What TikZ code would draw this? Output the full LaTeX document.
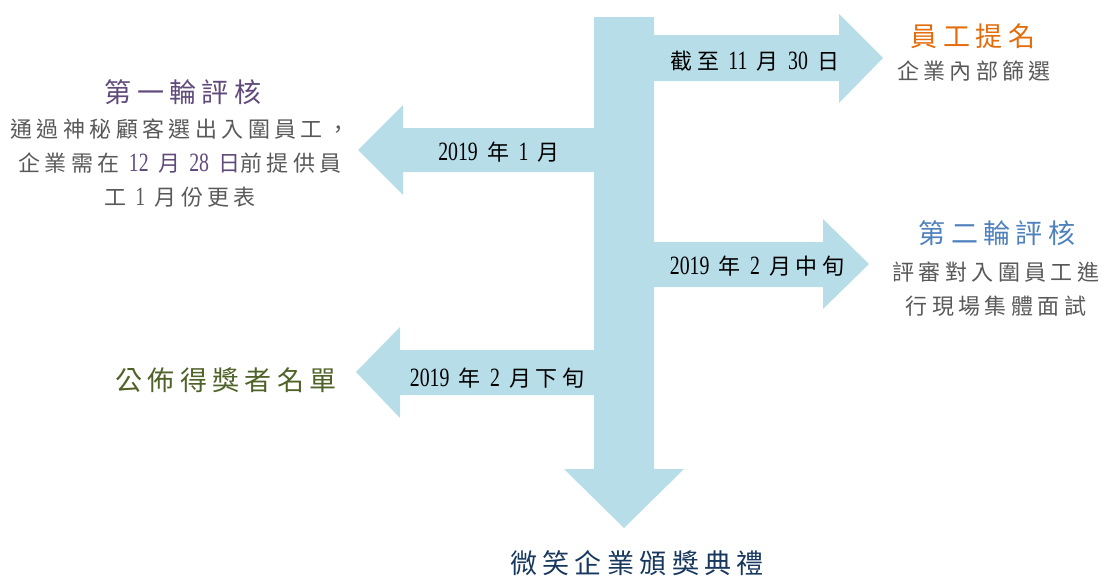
\documentclass[tikz,border=0pt]{standalone}
\usepackage{fontspec}
\usepackage{xcolor}
\setmainfont[LetterSpace=20]{Noto Sans CJK TC}
\newfontfamily\latin[FakeStretch=0.75,Scale=1.2]{Liberation Serif}
\definecolor{arrowblue}{HTML}{B7DDE8}
\definecolor{purpletext}{HTML}{604A7B}
\definecolor{orangetext}{HTML}{E46C0A}
\definecolor{bluetext}{HTML}{4F81BD}
\definecolor{greentext}{HTML}{4F6228}
\definecolor{navytext}{HTML}{17375E}
\definecolor{graytext}{HTML}{595959}

\begin{document}
\begin{tikzpicture}[x=1pt,y=-1pt,
    titletext/.style={font=\fontsize{27}{30}\selectfont, inner sep=0pt},
    bodytext/.style={font=\fontsize{22}{34}\selectfont, text=graytext, align=center, inner sep=0pt},
    datetext/.style={font=\fontsize{22}{24}\selectfont, inner sep=0pt}]
    \useasboundingbox (0,0) rectangle (1105,576);

    % stem and the five arrows
    \fill[arrowblue] (594,17) -- (654,17) -- (654,469) -- (684,469) -- (624,528)
        -- (564,469) -- (594,469) -- cycle;
    \fill[arrowblue] (640,35) -- (839,35) -- (839,14) -- (883,58) -- (839,103)
        -- (839,81) -- (640,81) -- cycle;
    \fill[arrowblue] (640,242) -- (823,242) -- (823,219) -- (869,264) -- (823,309)
        -- (823,287) -- (640,287) -- cycle;
    \fill[arrowblue] (608,128) -- (403,128) -- (403,105) -- (358,150) -- (403,195)
        -- (403,172) -- (608,172) -- cycle;
    \fill[arrowblue] (608,350) -- (400,350) -- (400,327) -- (356,372) -- (400,418)
        -- (400,395) -- (608,395) -- cycle;

    \node[datetext] (deadline) at (755,61) {截至 {\latin 11} 月 {\latin 30} 日};
    \node[datetext] (janround) at (499,152) {{\latin 2019} 年 {\latin 1} 月};
    \node[datetext] (midfeb) at (757,266) {{\latin 2019} 年 {\latin 2} 月中旬};
    \node[datetext] (latefeb) at (497,378) {{\latin 2019} 年 {\latin 2} 月下旬};

    \node[titletext, text=orangetext] (nominate) at (973,36) {員工提名};
    \node[bodytext] (nominatenote) at (974,71) {企業內部篩選};

    \node[titletext, text=purpletext] (roundone) at (183,92) {第一輪評核};
    \node[bodytext] (roundonenote) at (180,163) {通過神秘顧客選出入圍員工，\\
        企業需在 {\color{purpletext}{\latin 12} 月 {\latin 28} 日}前提供員\\
        工 {\latin 1} 月份更表};

    \node[titletext, text=bluetext] (roundtwo) at (997,233) {第二輪評核};
    \node[bodytext] (roundtwonote) at (996,289) {評審對入圍員工進\\行現場集體面試};

    \node[titletext, text=greentext] (announce) at (226,380) {公佈得獎者名單};
    \node[titletext, text=navytext] (ceremony) at (637,563) {微笑企業頒獎典禮};
\end{tikzpicture}
\end{document}
